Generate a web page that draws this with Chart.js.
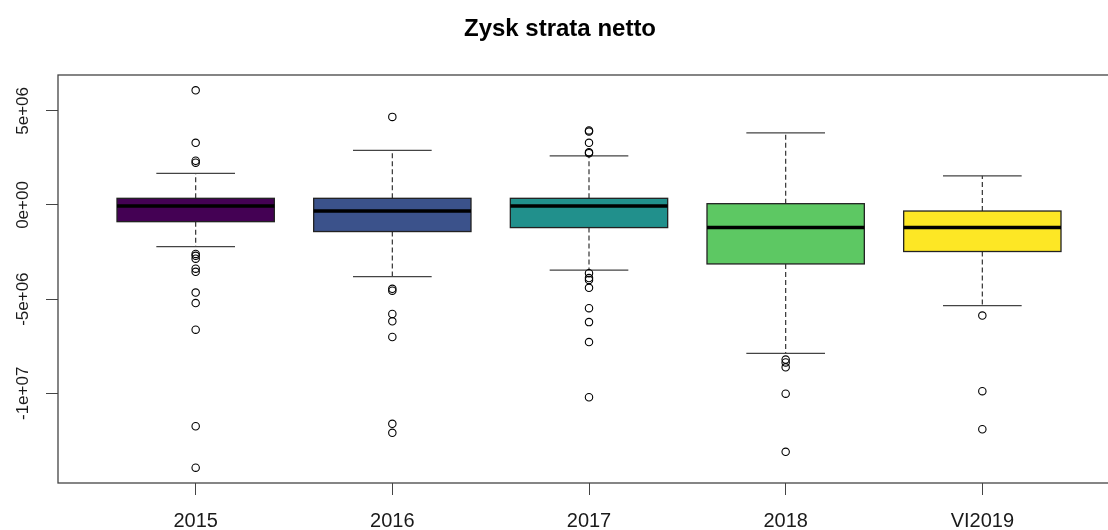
<!DOCTYPE html>
<html><head><meta charset="utf-8">
<script src="https://cdn.jsdelivr.net/npm/chart.js@4/dist/chart.umd.min.js"></script>
<style>html,body{margin:0;padding:0;overflow:hidden;background:#fff;width:1108px;height:530px}</style>
</head><body>
<canvas id="c" width="1178" height="530" style="width:1178px;height:530px;display:block"></canvas>
<script>
const chartTitle = 'Zysk strata netto';
const categories = ['2015', '2016', '2017', '2018', 'VI2019'];
const boxColors = ['#440154', '#3B528B', '#21908C', '#5DC863', '#FDE725'];
const q1 = [-885000, -1410000, -1200000, -3130000, -2470000];
const medians = [-50000, -320000, -50000, -1200000, -1200000];
const q3 = [355000, 355000, 355000, 70000, -320000];
const whiskerLow = [-2210000, -3800000, -3460000, -7880000, -5340000];
const whiskerHigh = [1680000, 2900000, 2610000, 3830000, 1550000];
const outliers2015 = [6090000, 3300000, 2350000, 2250000, -2600000, -2700000, -2850000, -3380000, -3550000, -4650000, -5210000, -6620000, -11750000, -13950000];
const outliers2016 = [4680000, -4450000, -4550000, -5790000, -6180000, -7010000, -11620000, -12100000];
const outliers2017 = [3960000, 3900000, 3300000, 2800000, 2750000, -3620000, -3880000, -3980000, -4400000, -5480000, -6220000, -7280000, -10210000];
const outliers2018 = [-8210000, -8360000, -8620000, -10020000, -13110000];
const outliers2019 = [-5870000, -9890000, -11910000];
const yTickValues = [-10000000, -5000000, 0, 5000000];
const yTickLabels = ['-1e+07', '-5e+06', '0e+00', '5e+06'];
const yMin = -14764000, yMax = 6904000;

const outlierLists = [outliers2015, outliers2016, outliers2017, outliers2018, outliers2019];
const outlierPoints = [];
outlierLists.forEach((list, i) => list.forEach(v => outlierPoints.push({x: i + 1, y: v})));

const FONT = "'Liberation Sans', Arial, sans-serif";

const boxPlugin = {
  id: 'boxes',
  beforeDatasetsDraw(chart) {
    const {ctx, scales: {x, y}} = chart;
    ctx.save();
    categories.forEach((c, i) => {
      const pos = i + 1;
      const cx = x.getPixelForValue(pos);
      const l = x.getPixelForValue(pos - 0.4), r = x.getPixelForValue(pos + 0.4);
      const cl = x.getPixelForValue(pos - 0.2), cr = x.getPixelForValue(pos + 0.2);
      const yq1 = y.getPixelForValue(q1[i]), yq3 = y.getPixelForValue(q3[i]);
      const ymed = y.getPixelForValue(medians[i]);
      const ylo = y.getPixelForValue(whiskerLow[i]), yhi = y.getPixelForValue(whiskerHigh[i]);
      // whiskers
      ctx.strokeStyle = '#333';
      ctx.lineWidth = 1.2;
      ctx.setLineDash([5, 3]);
      ctx.beginPath();
      ctx.moveTo(cx, yq3); ctx.lineTo(cx, yhi);
      ctx.moveTo(cx, yq1); ctx.lineTo(cx, ylo);
      ctx.stroke();
      ctx.setLineDash([]);
      ctx.strokeStyle = '#444';
      ctx.beginPath();
      ctx.moveTo(cl, yhi); ctx.lineTo(cr, yhi);
      ctx.moveTo(cl, ylo); ctx.lineTo(cr, ylo);
      ctx.stroke();
      // box
      ctx.fillStyle = boxColors[i];
      ctx.fillRect(l, yq3, r - l, yq1 - yq3);
      ctx.strokeStyle = '#222';
      ctx.lineWidth = 1.3;
      ctx.strokeRect(l, yq3, r - l, yq1 - yq3);
      // median
      ctx.strokeStyle = '#000';
      ctx.lineWidth = 3.5;
      ctx.beginPath();
      ctx.moveTo(l, ymed); ctx.lineTo(r, ymed);
      ctx.stroke();
    });
    ctx.restore();
  },
  afterDraw(chart) {
    const {ctx, chartArea: a, scales: {y}} = chart;
    ctx.save();
    ctx.strokeStyle = '#444';
    ctx.lineWidth = 1.3;
    ctx.strokeRect(a.left, a.top, a.right - a.left, a.bottom - a.top);
    ctx.fillStyle = '#1a1a1a';
    ctx.font = '17px ' + FONT;
    ctx.textAlign = 'center';
    ctx.textBaseline = 'middle';
    yTickValues.forEach((v, k) => {
      ctx.save();
      ctx.translate(23.5, y.getPixelForValue(v));
      ctx.rotate(-Math.PI / 2);
      ctx.fillText(yTickLabels[k], 0, 0);
      ctx.restore();
    });
    ctx.restore();
  }
};

new Chart(document.getElementById('c'), {
  type: 'scatter',
  data: {
    datasets: [{
      data: outlierPoints,
      pointRadius: 3.7,
      pointBorderWidth: 1.1,
      pointBorderColor: '#000',
      pointBackgroundColor: 'rgba(0,0,0,0)',
      showLine: false
    }]
  },
  options: {
    responsive: false,
    animation: false,
    layout: {padding: {left: 0, right: 58, top: 0, bottom: 0}},
    plugins: {
      legend: {display: false},
      tooltip: {enabled: false},
      title: {
        display: true,
        text: chartTitle,
        color: '#000',
        font: {family: FONT, size: 24, weight: 'bold'},
        padding: {top: 15, bottom: 31.2}
      }
    },
    scales: {
      x: {
        type: 'linear',
        min: 0.3, max: 5.7,
        afterBuildTicks: s => { s.ticks = categories.map((c, i) => ({value: i + 1})); },
        afterFit: s => { s.height = 47; },
        ticks: {
          callback: v => categories[Math.round(v) - 1],
          font: {family: FONT, size: 20},
          color: '#1a1a1a',
          padding: 14,
          maxRotation: 0, minRotation: 0, autoSkip: false
        },
        grid: {drawOnChartArea: false, drawTicks: true, tickLength: 12, color: '#444', lineWidth: 1},
        border: {display: false}
      },
      y: {
        type: 'linear',
        min: yMin, max: yMax,
        afterBuildTicks: s => { s.ticks = yTickValues.map(v => ({value: v})); },
        afterFit: s => { s.width = 58; },
        ticks: {display: false},
        grid: {drawOnChartArea: false, drawTicks: true, tickLength: 12, color: '#444', lineWidth: 1},
        border: {display: false}
      }
    }
  },
  plugins: [boxPlugin]
});
</script>
</body></html>
